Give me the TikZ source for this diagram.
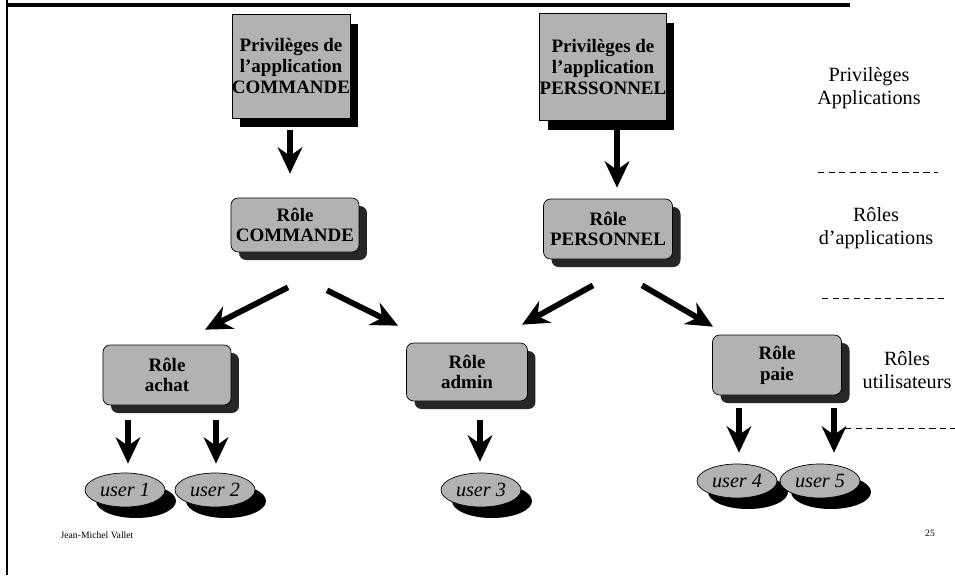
\documentclass[tikz,border=0pt]{standalone}
\usepackage{fontspec}
\setmainfont{Liberation Serif}
\usetikzlibrary{arrows.meta,shadows,shapes.geometric}

\begin{document}
\begin{tikzpicture}[
    x=0.02cm, y=-0.02cm,
    privbox/.style={
        rectangle,
        draw,
        fill=black!30,
        minimum width=2.36cm,
        minimum height=2.08cm,
        inner sep=0pt,
        align=center,
        font=\fontsize{10.8}{11.8}\selectfont\bfseries,
        drop shadow={shadow xshift=0.16cm, shadow yshift=-0.19cm, fill=black, opacity=1}
    },
    rolebox/.style={
        rectangle,
        draw,
        rounded corners=4pt,
        fill=black!30,
        minimum width=2.56cm,
        minimum height=1.2cm,
        inner sep=0pt,
        align=center,
        font=\fontsize{10.8}{11.8}\selectfont\bfseries,
        drop shadow={shadow xshift=0.16cm, shadow yshift=-0.16cm, fill=black!85, opacity=1}
    },
    userell/.style={
        ellipse,
        draw,
        fill=black!30,
        minimum width=1.6cm,
        minimum height=0.68cm,
        inner sep=0pt,
        font=\fontsize{11.5}{12}\selectfont\itshape,
        drop shadow={shadow xshift=0.22cm, shadow yshift=-0.22cm, fill=black, opacity=1}
    },
    level/.style={
        align=center,
        font=\fontsize{11.5}{13}\selectfont
    },
    arrow/.style={
        -{Stealth[length=15pt,width=14pt]},
        line width=3.3pt
    },
    sep/.style={
        dash pattern=on 3.5pt off 2.5pt,
        thin
    }
]
\useasboundingbox (0,0) rectangle (955,575);

% frame
\draw[line width=2.8pt] (7,5) -- (850,5);
\draw[line width=1.2pt] (7,0) -- (7,575);

% privileges
\node[privbox] (privcmd) at (291,66)
{Privilèges de\\l'application\\COMMANDE};
\node[privbox, minimum width=2.42cm, minimum height=2.14cm] (privpers) at (603,67)
{Privilèges de\\l'application\\PERSSONNEL};

% application roles
\node[rolebox, minimum height=1.08cm] (rolecmd) at (295,225) {Rôle\\COMMANDE};
\node[rolebox, minimum width=2.58cm] (rolepers) at (608,229) {Rôle\\PERSONNEL};

% user roles
\node[rolebox] (achat) at (167,375) {Rôle\\achat};
\node[rolebox, minimum width=2.42cm, minimum height=1.16cm] (admin) at (467,372) {Rôle\\admin};
\node[rolebox, minimum width=2.58cm] (paie) at (777,365) {Rôle\\paie};

% users
\node[userell] (user1) at (125,490) {user 1};
\node[userell] (user2) at (215,490) {user 2};
\node[userell] (user3) at (481,490) {user 3};
\node[userell] (user4) at (737,481) {user 4};
\node[userell] (user5) at (820,481) {user 5};

\draw[arrow] ([shift={(-1,12)}]privcmd.south) -- ([shift={(-5,-24)}]rolecmd.north);
\draw[arrow] ([shift={(14,2)}]privpers.south) -- ([shift={(9,-11)}]rolepers.north);
\draw[arrow] ([shift={(-7,35)}]rolecmd.south) -- ([shift={(38,-15)}]achat.north);
\draw[arrow] ([shift={(32,38)}]rolecmd.south) -- ([shift={(-69,-17)}]admin.north);
\draw[arrow] ([shift={(-15,26)}]rolepers.south) -- ([shift={(55,-18)}]admin.north);
\draw[arrow] ([shift={(34,26)}]rolepers.south) -- ([shift={(-64,-8)}]paie.north);
\draw[arrow] ([shift={(-39,15)}]achat.south) -- ([shift={(3,-9)}]user1.north);
\draw[arrow] ([shift={(49,15)}]achat.south) -- ([shift={(1,-9)}]user2.north);
\draw[arrow] ([shift={(13,19)}]admin.south) -- ([shift={(-1,-11)}]user3.north);
\draw[arrow] ([shift={(-38,13)}]paie.south) -- ([shift={(2,-11)}]user4.north);
\draw[arrow] ([shift={(57,13)}]paie.south) -- ([shift={(14,-11)}]user5.north);

% levels
\node[level] (lvlpriv) at (869,88) {Privilèges\\Applications};
\node[level] (lvlapp) at (876,228) {Rôles\\d'applications};
\node[level] (lvluser) at (907,370) {Rôles\\utilisateurs};
\draw[sep] (818,172) -- (938,172);
\draw[sep] (822,298) -- (945,298);
\draw[sep] (845,428) -- (955,428);

\node[font=\fontsize{5.5}{6}\selectfont] (author) at (97,535) {Jean-Michel Vallet};
\node[font=\fontsize{5.5}{6}\selectfont] (page) at (930,533) {25};
\end{tikzpicture}
\end{document}
